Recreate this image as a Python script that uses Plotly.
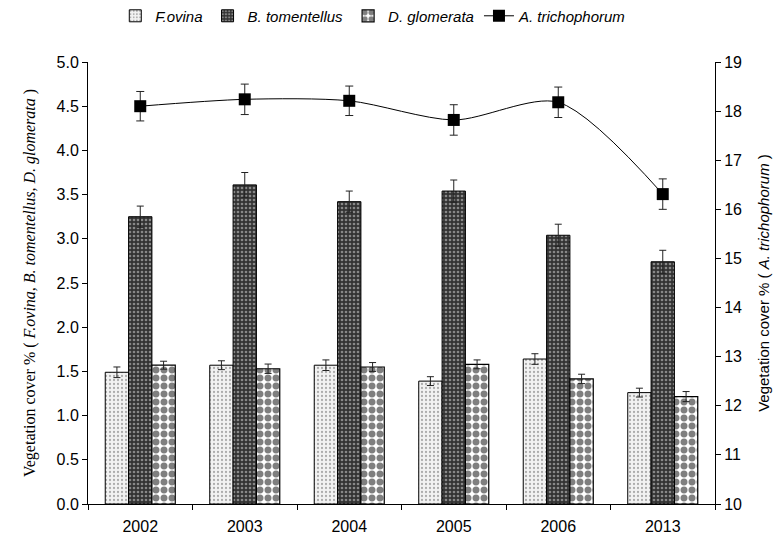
import plotly.graph_objects as go

years = ["2002", "2003", "2004", "2005", "2006", "2013"]
f_ovina = [1.49, 1.57, 1.57, 1.39, 1.64, 1.26]
f_ovina_err = [0.06, 0.05, 0.06, 0.05, 0.06, 0.05]
b_tom = [3.25, 3.61, 3.42, 3.54, 3.04, 2.74]
b_tom_err = [0.12, 0.14, 0.12, 0.125, 0.125, 0.13]
d_glom = [1.57, 1.53, 1.55, 1.58, 1.415, 1.215]
d_glom_err = [0.045, 0.053, 0.05, 0.05, 0.053, 0.057]
a_tri = [18.10, 18.24, 18.21, 17.82, 18.18, 16.31]
a_tri_err = [0.30, 0.31, 0.30, 0.31, 0.31, 0.31]

fig = go.Figure()

err_style = dict(type="data", symmetric=True, color="#222", thickness=1, width=3.5)

fig.add_trace(go.Bar(
    x=years, y=f_ovina, name="<i>F.ovina</i>",
    error_y=dict(array=f_ovina_err, **err_style),
    marker=dict(color="white", line=dict(color="black", width=1),
                pattern=dict(shape=".", fgcolor="#666", bgcolor="#f2f2f2", size=4, solidity=0.25)),
))
fig.add_trace(go.Bar(
    x=years, y=b_tom, name="<i>B. tomentellus</i>",
    error_y=dict(array=b_tom_err, **err_style),
    marker=dict(color="#333", line=dict(color="black", width=1),
                pattern=dict(shape=".", fgcolor="#dddddd", bgcolor="#333333", size=4, solidity=0.35)),
))
fig.add_trace(go.Bar(
    x=years, y=d_glom, name="<i>D. glomerata</i>",
    error_y=dict(array=d_glom_err, **err_style),
    marker=dict(color="white", line=dict(color="black", width=1.2),
                pattern=dict(shape=".", fgcolor="black", bgcolor="white", size=8, solidity=0.6)),
))
fig.add_trace(go.Scatter(
    x=years, y=a_tri, name="<i>A. trichophorum</i>", yaxis="y2",
    mode="lines+markers",
    line=dict(color="black", width=1, shape="spline", smoothing=0.8),
    marker=dict(symbol="square", size=12, color="black"),
    error_y=dict(array=a_tri_err, type="data", symmetric=True, color="#222", thickness=1, width=4),
))

fig.update_layout(
    width=784, height=538,
    paper_bgcolor="white", plot_bgcolor="white",
    margin=dict(l=79.5, r=77, t=54, b=42, autoexpand=False),
    barmode="group", bargap=0.33, bargroupgap=0,
    font=dict(family="Liberation Sans, Arial", size=16, color="black"),
    showlegend=True,
    legend=dict(orientation="h", x=0.455, xanchor="center", y=1.104, yanchor="middle",
                font=dict(size=15, family="Liberation Sans, Arial"),
                itemwidth=30, tracegroupgap=0),
    xaxis=dict(
        type="category", tickson="boundaries", ticks="outside", ticklen=5,
        tickcolor="black", showline=True, linecolor="black", linewidth=1,
        showgrid=False, ticklabelstandoff=8, tickfont=dict(size=16),
    ),
    yaxis=dict(
        range=[0, 5], dtick=0.5, tickformat=".1f", ticks="outside", ticklen=5,
        tickcolor="black", showline=True, linecolor="black", linewidth=1,
        showgrid=False, zeroline=False, tickfont=dict(size=16), automargin=False,
        title=dict(text="Vegetation cover % ( <i>F.ovina, B. tomentellus, D. glomerata</i> )",
                   font=dict(family="Liberation Serif, Times New Roman", size=16), standoff=16),
    ),
    yaxis2=dict(
        range=[10, 19], dtick=1, overlaying="y", side="right", ticks="outside", ticklen=5,
        tickcolor="black", showline=True, linecolor="black", linewidth=1,
        showgrid=False, zeroline=False, tickfont=dict(size=16), automargin=False,
        title=dict(text="Vegetation cover % ( <i>A. trichophorum</i> )",
                   font=dict(family="Liberation Sans, Arial", size=15), standoff=17),
    ),
)

fig.write_html("out.html")
